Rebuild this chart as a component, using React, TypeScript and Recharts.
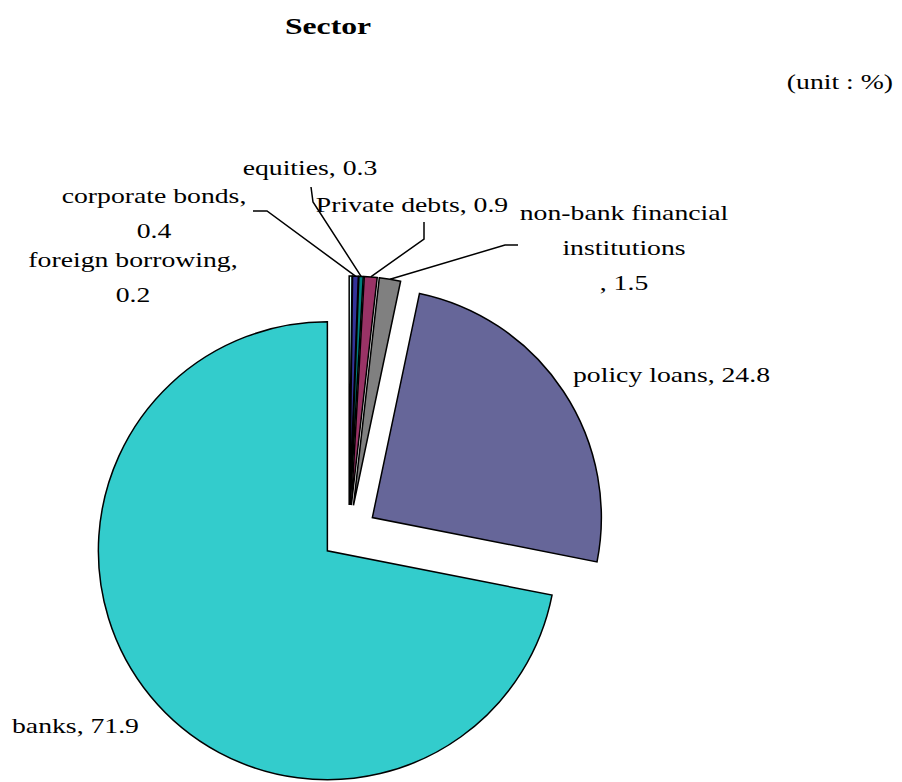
import { PieChart, Pie, Cell, Sector } from 'recharts';

// values in %, clockwise from 12 o'clock
const sectors = [
  'foreign borrowing',
  'corporate bonds',
  'equities',
  'Private debts',
  'non-bank financial\ninstitutions',
  'policy loans',
  'banks',
];
const shares = [0.2, 0.4, 0.3, 0.9, 1.5, 24.8, 71.9];
const colors = ['#ccffff', '#333399', '#008080', '#993366', '#808080', '#666699', '#33cccc'];

const data = sectors.map((name, i) => ({ name, value: shares[i] }));

const EXPLODE = 28;
const FONT = '"Liberation Serif", "Times New Roman", serif';
const STRETCH = 1.32;

// where each label sits, how the value is joined, and the elbow of its leader line
const labelLayout = [
  { x: 133, y: 267, anchor: 'middle', sep: ',\n', leader: null },
  { x: 154, y: 203, anchor: 'middle', sep: ',\n', leader: [[253, 211], [267, 211]] },
  { x: 310, y: 175, anchor: 'middle', sep: ', ', leader: [[311, 187], [313, 202]] },
  { x: 412, y: 212, anchor: 'middle', sep: ', ', leader: [[424, 222], [424, 239]] },
  { x: 624, y: 220, anchor: 'middle', sep: '\n, ', leader: [[518, 245], [505, 245]] },
  { x: 573, y: 382, anchor: 'start', sep: ', ', leader: null },
  { x: 12, y: 733, anchor: 'start', sep: ', ', leader: null },
];

const dir = (midAngle: number) => {
  const rad = (-midAngle * Math.PI) / 180;
  return [Math.cos(rad), Math.sin(rad)];
};

const ExplodedSector = (props: any) => {
  const [dx, dy] = dir(props.midAngle);
  return <Sector {...props} cx={props.cx + EXPLODE * dx} cy={props.cy + EXPLODE * dy} />;
};

const StretchText = ({ x, y, anchor, size = 21, weight = 'normal', children }: any) => (
  <text
    transform={`translate(${x},${y}) scale(${STRETCH},1)`}
    textAnchor={anchor}
    fontFamily={FONT}
    fontSize={size}
    fontWeight={weight}
    fill="#000"
  >
    {children}
  </text>
);

const renderLabel = (props: any) => {
  const { cx, cy, midAngle, outerRadius, index } = props;
  const layout = labelLayout[index];
  const text = `${sectors[index]}${layout.sep}${shares[index].toFixed(1)}`;
  const lines = text.split('\n');
  const [dx, dy] = dir(midAngle);
  const ex = cx + (outerRadius + EXPLODE) * dx;
  const ey = cy + (outerRadius + EXPLODE) * dy;
  return (
    <g key={`lbl-${index}`}>
      {layout.leader && (
        <polyline
          points={[...layout.leader, [ex, ey]].map((p) => p.join(',')).join(' ')}
          fill="none"
          stroke="#000"
          strokeWidth={1.5}
        />
      )}
      {lines.map((ln, j) => (
        <StretchText key={j} x={layout.x} y={layout.y + j * 35} anchor={layout.anchor}>
          {ln}
        </StretchText>
      ))}
    </g>
  );
};

export default function App() {
  return (
    <div style={{ position: 'absolute', left: 0, top: 0, width: 902, height: 782, background: '#fff' }}>
      <PieChart width={902} height={782} margin={{ top: 0, right: 0, bottom: 0, left: 0 }}>
        <Pie
          data={data}
          dataKey="value"
          nameKey="name"
          cx={349}
          cy={533}
          outerRadius={229}
          startAngle={90}
          endAngle={-270}
          stroke="#000"
          strokeWidth={1.5}
          shape={ExplodedSector}
          label={renderLabel}
          labelLine={false}
          isAnimationActive={false}
        >
          {data.map((_, i) => (
            <Cell key={i} fill={colors[i]} />
          ))}
        </Pie>
      </PieChart>
      <svg width={902} height={782} style={{ position: 'absolute', left: 0, top: 0, pointerEvents: 'none' }}>
        <StretchText x={328} y={34} anchor="middle" size={24} weight="bold">
          Sector
        </StretchText>
        <StretchText x={893} y={89} anchor="end">
          (unit : %)
        </StretchText>
      </svg>
    </div>
  );
}
